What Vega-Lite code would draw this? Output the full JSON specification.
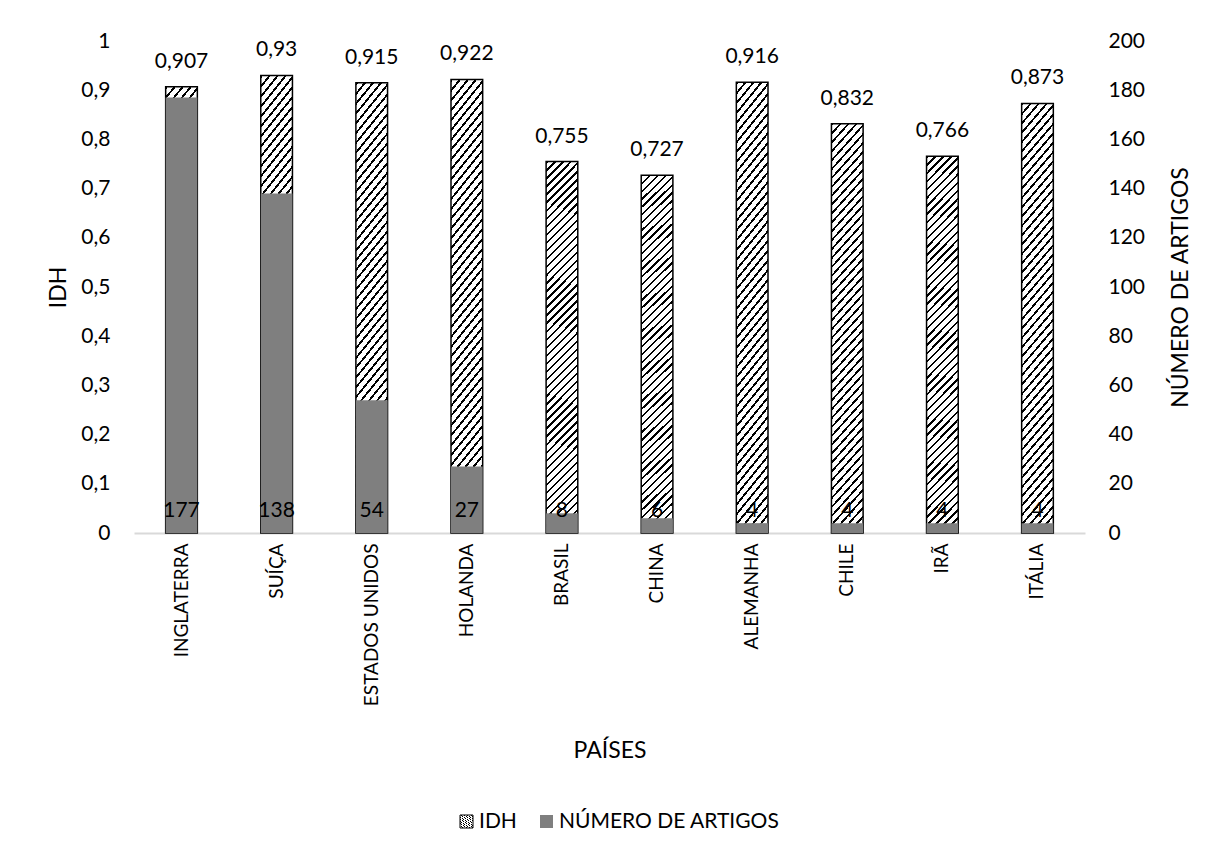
{
  "$schema": "https://vega.github.io/schema/vega-lite/v6.json",
  "width": 951,
  "height": 492,
  "autosize": {"type": "none"},
  "padding": {"left": 134, "top": 41, "right": 133, "bottom": 320},
  "background": "white",
  "config": {
    "locale": {"number": {"decimal": ",", "thousands": ".", "grouping": [3], "currency": ["", ""]}},
    "font": "Lato",
    "view": {"stroke": null},
    "axis": {
      "labelFont": "Lato", "labelFontSize": 21, "labelColor": "#000",
      "titleFont": "Lato", "titleFontSize": 23, "titleFontWeight": "normal", "titleColor": "#000",
      "grid": false, "ticks": false
    },
    "legend": {
      "labelFont": "Lato", "labelFontSize": 21, "labelColor": "#000", "labelLimit": 500
    }
  },
  "data": {
    "values": [
      {"pais": "INGLATERRA", "idh": 0.907, "artigos": 177},
      {"pais": "SUÍÇA", "idh": 0.93, "artigos": 138},
      {"pais": "ESTADOS UNIDOS", "idh": 0.915, "artigos": 54},
      {"pais": "HOLANDA", "idh": 0.922, "artigos": 27},
      {"pais": "BRASIL", "idh": 0.755, "artigos": 8},
      {"pais": "CHINA", "idh": 0.727, "artigos": 6},
      {"pais": "ALEMANHA", "idh": 0.916, "artigos": 4},
      {"pais": "CHILE", "idh": 0.832, "artigos": 4},
      {"pais": "IRÃ", "idh": 0.766, "artigos": 4},
      {"pais": "ITÁLIA", "idh": 0.873, "artigos": 4}
    ]
  },
  "encoding": {
    "x": {
      "field": "pais", "type": "nominal", "sort": null,
      "scale": {"paddingInner": 0.667, "paddingOuter": 0.333},
      "axis": {
        "title": "PAÍSES", "labelAngle": -90, "labelPadding": 10, "labelFontSize": 19,
        "domainColor": "#d9d9d9", "domainWidth": 2,
        "titleY": 224, "titleBaseline": "alphabetic"
      }
    }
  },
  "layer": [
    {
      "encoding": {
        "y": {
          "field": "idh", "type": "quantitative",
          "scale": {"domain": [0, 1]},
          "axis": {
            "title": "IDH", "orient": "left", "values": [0, 0.1, 0.2, 0.3, 0.4, 0.5, 0.6, 0.7, 0.8, 0.9, 1],
            "format": ".1~f", "domain": false, "labelPadding": 24,
            "titleAngle": 270, "titleX": -76, "titleY": 246, "titleBaseline": "middle"
          }
        }
      },
      "layer": [
        {
          "mark": {
            "type": "bar", "strokeWidth": 1.5,
            "fill": {
              "gradient": "linear", "x1": 0, "y1": 0, "x2": 0.093, "y2": 1.078,
              "stops": [
                {"offset": 0, "color": "#000"}, {"offset": 0.006, "color": "#000"}, {"offset": 0.006, "color": "#fff"}, {"offset": 0.02, "color": "#fff"},
                {"offset": 0.02, "color": "#000"}, {"offset": 0.026, "color": "#000"}, {"offset": 0.026, "color": "#fff"}, {"offset": 0.04, "color": "#fff"},
                {"offset": 0.04, "color": "#000"}, {"offset": 0.046, "color": "#000"}, {"offset": 0.046, "color": "#fff"}, {"offset": 0.06, "color": "#fff"},
                {"offset": 0.06, "color": "#000"}, {"offset": 0.066, "color": "#000"}, {"offset": 0.066, "color": "#fff"}, {"offset": 0.08, "color": "#fff"},
                {"offset": 0.08, "color": "#000"}, {"offset": 0.086, "color": "#000"}, {"offset": 0.086, "color": "#fff"}, {"offset": 0.1, "color": "#fff"},
                {"offset": 0.1, "color": "#000"}, {"offset": 0.106, "color": "#000"}, {"offset": 0.106, "color": "#fff"}, {"offset": 0.12, "color": "#fff"},
                {"offset": 0.12, "color": "#000"}, {"offset": 0.126, "color": "#000"}, {"offset": 0.126, "color": "#fff"}, {"offset": 0.14, "color": "#fff"},
                {"offset": 0.14, "color": "#000"}, {"offset": 0.146, "color": "#000"}, {"offset": 0.146, "color": "#fff"}, {"offset": 0.16, "color": "#fff"},
                {"offset": 0.16, "color": "#000"}, {"offset": 0.166, "color": "#000"}, {"offset": 0.166, "color": "#fff"}, {"offset": 0.18, "color": "#fff"},
                {"offset": 0.18, "color": "#000"}, {"offset": 0.186, "color": "#000"}, {"offset": 0.186, "color": "#fff"}, {"offset": 0.2, "color": "#fff"},
                {"offset": 0.2, "color": "#000"}, {"offset": 0.206, "color": "#000"}, {"offset": 0.206, "color": "#fff"}, {"offset": 0.22, "color": "#fff"},
                {"offset": 0.22, "color": "#000"}, {"offset": 0.226, "color": "#000"}, {"offset": 0.226, "color": "#fff"}, {"offset": 0.24, "color": "#fff"},
                {"offset": 0.24, "color": "#000"}, {"offset": 0.246, "color": "#000"}, {"offset": 0.246, "color": "#fff"}, {"offset": 0.26, "color": "#fff"},
                {"offset": 0.26, "color": "#000"}, {"offset": 0.266, "color": "#000"}, {"offset": 0.266, "color": "#fff"}, {"offset": 0.28, "color": "#fff"},
                {"offset": 0.28, "color": "#000"}, {"offset": 0.286, "color": "#000"}, {"offset": 0.286, "color": "#fff"}, {"offset": 0.3, "color": "#fff"},
                {"offset": 0.3, "color": "#000"}, {"offset": 0.306, "color": "#000"}, {"offset": 0.306, "color": "#fff"}, {"offset": 0.32, "color": "#fff"},
                {"offset": 0.32, "color": "#000"}, {"offset": 0.326, "color": "#000"}, {"offset": 0.326, "color": "#fff"}, {"offset": 0.34, "color": "#fff"},
                {"offset": 0.34, "color": "#000"}, {"offset": 0.346, "color": "#000"}, {"offset": 0.346, "color": "#fff"}, {"offset": 0.36, "color": "#fff"},
                {"offset": 0.36, "color": "#000"}, {"offset": 0.366, "color": "#000"}, {"offset": 0.366, "color": "#fff"}, {"offset": 0.38, "color": "#fff"},
                {"offset": 0.38, "color": "#000"}, {"offset": 0.386, "color": "#000"}, {"offset": 0.386, "color": "#fff"}, {"offset": 0.4, "color": "#fff"},
                {"offset": 0.4, "color": "#000"}, {"offset": 0.406, "color": "#000"}, {"offset": 0.406, "color": "#fff"}, {"offset": 0.42, "color": "#fff"},
                {"offset": 0.42, "color": "#000"}, {"offset": 0.426, "color": "#000"}, {"offset": 0.426, "color": "#fff"}, {"offset": 0.44, "color": "#fff"},
                {"offset": 0.44, "color": "#000"}, {"offset": 0.446, "color": "#000"}, {"offset": 0.446, "color": "#fff"}, {"offset": 0.46, "color": "#fff"},
                {"offset": 0.46, "color": "#000"}, {"offset": 0.466, "color": "#000"}, {"offset": 0.466, "color": "#fff"}, {"offset": 0.48, "color": "#fff"},
                {"offset": 0.48, "color": "#000"}, {"offset": 0.486, "color": "#000"}, {"offset": 0.486, "color": "#fff"}, {"offset": 0.5, "color": "#fff"},
                {"offset": 0.5, "color": "#000"}, {"offset": 0.506, "color": "#000"}, {"offset": 0.506, "color": "#fff"}, {"offset": 0.52, "color": "#fff"},
                {"offset": 0.52, "color": "#000"}, {"offset": 0.526, "color": "#000"}, {"offset": 0.526, "color": "#fff"}, {"offset": 0.54, "color": "#fff"},
                {"offset": 0.54, "color": "#000"}, {"offset": 0.546, "color": "#000"}, {"offset": 0.546, "color": "#fff"}, {"offset": 0.56, "color": "#fff"},
                {"offset": 0.56, "color": "#000"}, {"offset": 0.566, "color": "#000"}, {"offset": 0.566, "color": "#fff"}, {"offset": 0.58, "color": "#fff"},
                {"offset": 0.58, "color": "#000"}, {"offset": 0.586, "color": "#000"}, {"offset": 0.586, "color": "#fff"}, {"offset": 0.6, "color": "#fff"},
                {"offset": 0.6, "color": "#000"}, {"offset": 0.606, "color": "#000"}, {"offset": 0.606, "color": "#fff"}, {"offset": 0.62, "color": "#fff"},
                {"offset": 0.62, "color": "#000"}, {"offset": 0.626, "color": "#000"}, {"offset": 0.626, "color": "#fff"}, {"offset": 0.64, "color": "#fff"},
                {"offset": 0.64, "color": "#000"}, {"offset": 0.646, "color": "#000"}, {"offset": 0.646, "color": "#fff"}, {"offset": 0.66, "color": "#fff"},
                {"offset": 0.66, "color": "#000"}, {"offset": 0.666, "color": "#000"}, {"offset": 0.666, "color": "#fff"}, {"offset": 0.68, "color": "#fff"},
                {"offset": 0.68, "color": "#000"}, {"offset": 0.686, "color": "#000"}, {"offset": 0.686, "color": "#fff"}, {"offset": 0.7, "color": "#fff"},
                {"offset": 0.7, "color": "#000"}, {"offset": 0.706, "color": "#000"}, {"offset": 0.706, "color": "#fff"}, {"offset": 0.72, "color": "#fff"},
                {"offset": 0.72, "color": "#000"}, {"offset": 0.726, "color": "#000"}, {"offset": 0.726, "color": "#fff"}, {"offset": 0.74, "color": "#fff"},
                {"offset": 0.74, "color": "#000"}, {"offset": 0.746, "color": "#000"}, {"offset": 0.746, "color": "#fff"}, {"offset": 0.76, "color": "#fff"},
                {"offset": 0.76, "color": "#000"}, {"offset": 0.766, "color": "#000"}, {"offset": 0.766, "color": "#fff"}, {"offset": 0.78, "color": "#fff"},
                {"offset": 0.78, "color": "#000"}, {"offset": 0.786, "color": "#000"}, {"offset": 0.786, "color": "#fff"}, {"offset": 0.8, "color": "#fff"},
                {"offset": 0.8, "color": "#000"}, {"offset": 0.806, "color": "#000"}, {"offset": 0.806, "color": "#fff"}, {"offset": 0.82, "color": "#fff"},
                {"offset": 0.82, "color": "#000"}, {"offset": 0.826, "color": "#000"}, {"offset": 0.826, "color": "#fff"}, {"offset": 0.84, "color": "#fff"},
                {"offset": 0.84, "color": "#000"}, {"offset": 0.846, "color": "#000"}, {"offset": 0.846, "color": "#fff"}, {"offset": 0.86, "color": "#fff"},
                {"offset": 0.86, "color": "#000"}, {"offset": 0.866, "color": "#000"}, {"offset": 0.866, "color": "#fff"}, {"offset": 0.88, "color": "#fff"},
                {"offset": 0.88, "color": "#000"}, {"offset": 0.886, "color": "#000"}, {"offset": 0.886, "color": "#fff"}, {"offset": 0.9, "color": "#fff"},
                {"offset": 0.9, "color": "#000"}, {"offset": 0.906, "color": "#000"}, {"offset": 0.906, "color": "#fff"}, {"offset": 0.92, "color": "#fff"},
                {"offset": 0.92, "color": "#000"}, {"offset": 0.926, "color": "#000"}, {"offset": 0.926, "color": "#fff"}, {"offset": 0.94, "color": "#fff"},
                {"offset": 0.94, "color": "#000"}, {"offset": 0.946, "color": "#000"}, {"offset": 0.946, "color": "#fff"}, {"offset": 0.96, "color": "#fff"},
                {"offset": 0.96, "color": "#000"}, {"offset": 0.966, "color": "#000"}, {"offset": 0.966, "color": "#fff"}, {"offset": 0.98, "color": "#fff"},
                {"offset": 0.98, "color": "#000"}, {"offset": 0.986, "color": "#000"}, {"offset": 0.986, "color": "#fff"}, {"offset": 1, "color": "#fff"}
              ]
            }
          },
          "encoding": {
            "stroke": {
              "datum": "IDH", "type": "nominal",
              "scale": {"domain": ["IDH"], "range": ["#000"]},
              "legend": {
                "title": null, "orient": "none", "direction": "horizontal",
                "legendX": 322, "legendY": 770,
                "symbolType": "square", "symbolSize": 169, "symbolStrokeWidth": 1,
                "labelOffset": 2
              }
            }
          }
        },
        {
          "mark": {"type": "text", "baseline": "alphabetic", "dy": -19, "fontSize": 21, "color": "#000"},
          "encoding": {
            "text": {"field": "idh", "type": "quantitative", "format": ".3~f"}
          }
        }
      ]
    },
    {
      "encoding": {
        "y": {
          "field": "artigos", "type": "quantitative",
          "scale": {"domain": [0, 200]},
          "axis": {
            "title": "NÚMERO DE ARTIGOS", "orient": "right",
            "values": [0, 20, 40, 60, 80, 100, 120, 140, 160, 180, 200],
            "domain": false, "labelPadding": 23,
            "titleAngle": 270, "titleX": 95, "titleY": 246, "titleBaseline": "middle"
          }
        }
      },
      "layer": [
        {
          "mark": {"type": "bar"},
          "encoding": {
            "fill": {
              "datum": "NÚMERO DE ARTIGOS", "type": "nominal",
              "scale": {"domain": ["NÚMERO DE ARTIGOS"], "range": ["#7f7f7f"]},
              "legend": {
                "title": null, "orient": "none", "direction": "horizontal",
                "legendX": 402, "legendY": 770,
                "symbolType": "square", "symbolSize": 169, "symbolStrokeWidth": 0,
                "labelOffset": 2
              }
            }
          }
        },
        {
          "mark": {"type": "text", "baseline": "alphabetic", "dy": -16, "fontSize": 21, "color": "#000"},
          "encoding": {
            "y": {"datum": 0, "type": "quantitative"},
            "text": {"field": "artigos", "type": "quantitative"}
          }
        }
      ]
    }
  ],
  "resolve": {"scale": {"y": "independent"}}
}
